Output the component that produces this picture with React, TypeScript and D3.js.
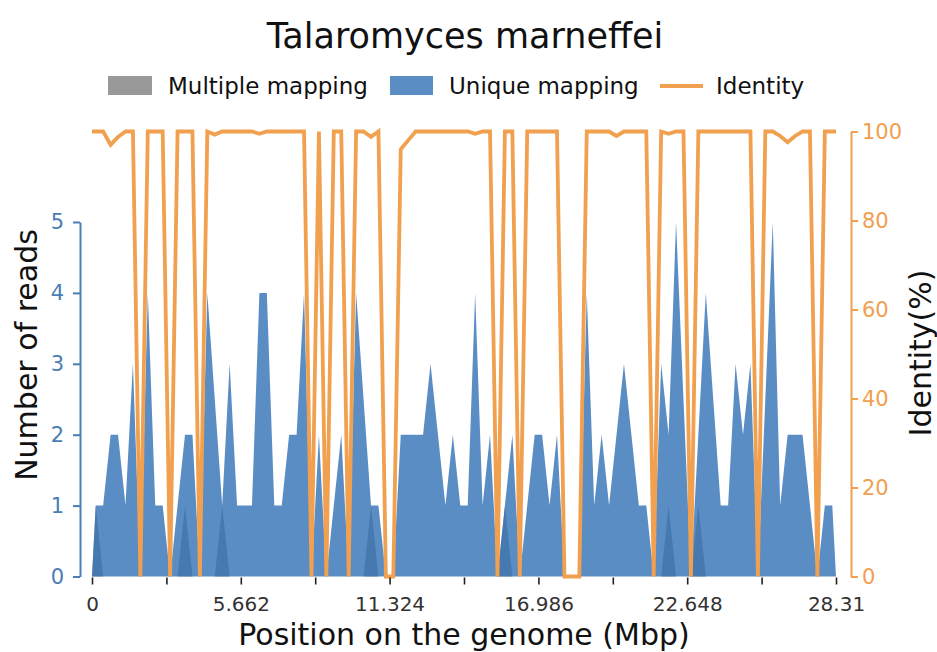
import React, { useEffect, useRef } from "react";
import * as d3 from "d3";

// genome length in Mbp, reads are binned in equal windows along it
const GENOME_LEN = 28.31;

const uniqueReads = [
  1, 1, 2, 2, 1, 3, 0, 4, 1, 1,
  0, 1, 2, 2, 0, 4, 2.5, 1, 3, 1,
  1, 1, 4, 4, 1, 1, 2, 2, 4, 0,
  2, 0, 1, 2, 0, 4, 2.5, 1, 1, 0,
  0, 2, 2, 2, 2, 3, 2, 1, 2, 1,
  1, 4, 1, 2, 0, 1, 2, 0, 1, 2,
  2, 1, 2, 0, 0, 0, 4, 1, 2, 1,
  2, 3, 2, 1, 1, 0, 3, 2, 5, 2.5,
  0, 2, 4, 2.5, 1, 1, 3, 2, 3, 0,
  2.5, 5, 1, 2, 2, 2, 1, 0, 1, 1,
];

const multiReads = [
  1, 0, 0, 0, 0, 0, 0, 0, 0, 0,
  0, 0, 1, 0, 0, 0, 0, 1, 0, 0,
  0, 0, 0, 0, 0, 0, 0, 0, 0, 0,
  0, 0, 0, 0, 0, 0, 0, 1, 0, 0,
  0, 0, 0, 0, 0, 0, 0, 0, 0, 0,
  0, 0, 0, 0, 0, 1, 0, 0, 0, 0,
  0, 0, 0, 0, 0, 0, 0, 0, 0, 0,
  0, 0, 0, 0, 0, 0, 0, 1, 0, 0,
  0, 1, 0, 0, 0, 0, 0, 0, 0, 0,
  0, 0, 0, 0, 0, 0, 0, 0, 0, 0,
];

const identity = [
  100, 100, 97, 98.8, 100, 100, 0, 100, 100, 100,
  0, 100, 100, 100, 0, 100, 99.3, 100, 100, 100,
  100, 100, 99.5, 100, 100, 100, 100, 100, 100, 0,
  100, 0, 100, 100, 0, 100, 100, 98.8, 100, 0,
  0, 96, 98, 100, 100, 100, 100, 100, 100, 100,
  100, 99.5, 100, 100, 0, 100, 100, 0, 100, 100,
  100, 100, 100, 0, 0, 0, 100, 100, 100, 100,
  99, 100, 100, 100, 100, 0, 100, 99.5, 100, 100,
  0, 100, 100, 100, 100, 100, 100, 100, 100, 0,
  100, 100, 99, 97.6, 99, 100, 100, 0, 100, 100,
];

const xTicks = [0, 2.831, 5.662, 8.493, 11.324, 14.155, 16.986, 19.817, 22.648, 25.479, 28.31];
const xTickLabels = ["0", "", "5.662", "", "11.324", "", "16.986", "", "22.648", "", "28.31"];
const readTicks = [0, 1, 2, 3, 4, 5];
const identityTicks = [0, 20, 40, 60, 80, 100];

const W = 937;
const H = 652;
const FONT = "DejaVu Sans";
const BLUE = "rgb(49,113,181)";
const BLUE_AXIS = "#4a7db3";
const GRAY = "#808080";
const ORANGE = "#f0a04e";

const App = () => {
  const xAxisRef = useRef(null);
  const leftRef = useRef(null);
  const rightRef = useRef(null);

  const x = d3.scaleLinear().domain([0, GENOME_LEN]).range([92, 836]);
  const yReads = d3.scaleLinear().domain([0, 5]).range([576.5, 222]);
  const yIdent = d3.scaleLinear().domain([0, 100]).range([576.5, 131.5]);

  const bin = GENOME_LEN / uniqueReads.length;
  const centers = uniqueReads.map((_, i) => (i + 0.5) * bin);

  const uniqueData = [{ x: 0, v: 0 }, ...centers.map((c, i) => ({ x: c, v: uniqueReads[i] })), { x: GENOME_LEN, v: 0 }];
  const multiData = [{ x: 0, v: 0 }, ...centers.map((c, i) => ({ x: c, v: multiReads[i] })), { x: GENOME_LEN, v: 0 }];
  const identData = [
    { x: 0, v: identity[0] },
    ...centers.map((c, i) => ({ x: c, v: identity[i] })),
    { x: GENOME_LEN, v: identity[identity.length - 1] },
  ];

  const area = d3
    .area()
    .x(d => x(d.x))
    .y0(yReads(0))
    .y1(d => yReads(d.v));
  const line = d3
    .line()
    .x(d => x(d.x))
    .y(d => yIdent(d.v));

  useEffect(() => {
    const gx = d3.select(xAxisRef.current);
    gx.call(
      d3
        .axisBottom(x)
        .tickValues(xTicks)
        .tickSize(7)
        .tickPadding(12)
        .tickFormat((d, i) => xTickLabels[i])
    );
    gx.select(".domain").remove();
    gx.selectAll(".tick line").attr("stroke", "#222").attr("stroke-width", 1.6);
    gx.selectAll(".tick text")
      .attr("fill", "#333")
      .style("font-family", FONT)
      .style("font-size", "20px");

    const gl = d3.select(leftRef.current);
    gl.call(d3.axisLeft(yReads).tickValues(readTicks).tickSize(7).tickSizeOuter(0).tickPadding(9).tickFormat(d3.format("d")));
    gl.select(".domain").attr("stroke", BLUE_AXIS).attr("stroke-width", 2);
    gl.selectAll(".tick line").attr("stroke", BLUE_AXIS).attr("stroke-width", 2);
    gl.selectAll(".tick text")
      .attr("fill", BLUE_AXIS)
      .style("font-family", FONT)
      .style("font-size", "21px");

    const gr = d3.select(rightRef.current);
    gr.call(d3.axisRight(yIdent).tickValues(identityTicks).tickSize(7).tickSizeOuter(0).tickPadding(4));
    gr.select(".domain").attr("stroke", ORANGE).attr("stroke-width", 2);
    gr.selectAll(".tick line").attr("stroke", ORANGE).attr("stroke-width", 2);
    gr.selectAll(".tick text")
      .attr("fill", ORANGE)
      .style("font-family", FONT)
      .style("font-size", "21px");
  }, []);

  return (
    <svg
      width={W}
      height={H}
      style={{ position: "absolute", left: 0, top: 0, background: "#fff" }}
      fontFamily={FONT}
    >
      <text x={465} y={48} textAnchor="middle" fontSize={35} fill="#111">
        Talaromyces marneffei
      </text>

      {/* legend */}
      <g fontSize={23} fill="#111">
        <rect x={108} y={76} width={44} height={19} fill={GRAY} fillOpacity={0.8} />
        <text x={168} y={94}>Multiple mapping</text>
        <rect x={390} y={76} width={43} height={19} fill={BLUE} fillOpacity={0.8} />
        <text x={449} y={94}>Unique mapping</text>
        <line x1={660} x2={703} y1={86} y2={86} stroke={ORANGE} strokeWidth={4} />
        <text x={716} y={94}>Identity</text>
      </g>

      <path d={area(multiData)} fill={GRAY} fillOpacity={0.8} />
      <path d={area(uniqueData)} fill={BLUE} fillOpacity={0.8} />
      <path d={line(identData)} fill="none" stroke={ORANGE} strokeWidth={3.8} />

      <g ref={xAxisRef} transform="translate(0,577.5)" />
      <g ref={leftRef} transform="translate(80,0)" />
      <g ref={rightRef} transform="translate(851,0)" />

      <text x={464} y={645} textAnchor="middle" fontSize={30} fill="#111">
        Position on the genome (Mbp)
      </text>
      <text transform="translate(37,355) rotate(-90)" textAnchor="middle" fontSize={30} fill="#111">
        Number of reads
      </text>
      <text transform="translate(931,353) rotate(-90)" textAnchor="middle" fontSize={30} fill="#111">
        Identity(%)
      </text>
    </svg>
  );
};

export default App;
